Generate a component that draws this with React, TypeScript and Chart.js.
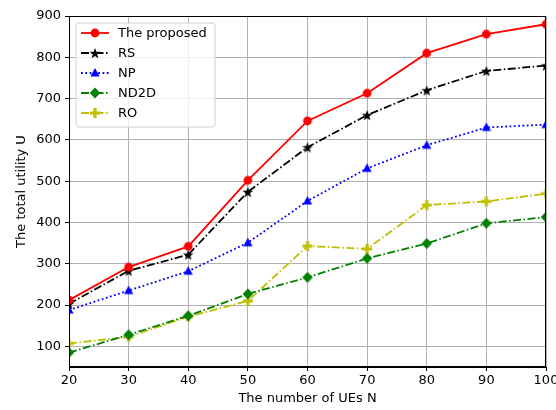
import React, { useEffect, useRef } from "react";
import { Chart, registerables } from "chart.js";

Chart.register(...registerables);

const xValues = [20, 30, 40, 50, 60, 70, 80, 90, 100];
const proposed = [212, 292, 342, 502, 646, 713, 810, 856, 880];
const rs = [203, 283, 322, 474, 582, 660, 720, 767, 780];
const np = [188, 235, 282, 351, 452, 531, 587, 630, 637];
const nd2d = [85, 128, 174, 227, 267, 313, 349, 398, 413];
const ro = [107, 123, 172, 210, 343, 336, 442, 451, 470];
const yTicks = [100, 200, 300, 400, 500, 600, 700, 800, 900];
const seriesNames = ["The proposed", "RS", "NP", "ND2D", "RO"];

const FONT = "'DejaVu Sans', sans-serif";

function makeMarker(kind: string, color: string): HTMLCanvasElement {
  const s = 14;
  const c = document.createElement("canvas");
  c.width = s;
  c.height = s;
  const ctx = c.getContext("2d")!;
  const m = s / 2;
  ctx.fillStyle = color;
  ctx.beginPath();
  if (kind === "circle") {
    ctx.arc(m, m, 4.4, 0, Math.PI * 2);
  } else if (kind === "star") {
    const ro = 5.6, ri = 2.3;
    for (let i = 0; i < 10; i++) {
      const r = i % 2 === 0 ? ro : ri;
      const a = -Math.PI / 2 + (i * Math.PI) / 5;
      const px = m + r * Math.cos(a), py = m + 0.6 + r * Math.sin(a);
      if (i === 0) ctx.moveTo(px, py); else ctx.lineTo(px, py);
    }
    ctx.closePath();
  } else if (kind === "triangle") {
    ctx.moveTo(m, m - 5);
    ctx.lineTo(m + 4.6, m + 3.6);
    ctx.lineTo(m - 4.6, m + 3.6);
    ctx.closePath();
  } else if (kind === "diamond") {
    ctx.moveTo(m, m - 5.6);
    ctx.lineTo(m + 5.2, m);
    ctx.lineTo(m, m + 5.6);
    ctx.lineTo(m - 5.2, m);
    ctx.closePath();
  } else if (kind === "plus") {
    const a = 5, t = 1.6;
    ctx.rect(m - a, m - t, 2 * a, 2 * t);
    ctx.rect(m - t, m - a, 2 * t, 2 * a);
  }
  ctx.fill();
  return c;
}

const borderPlugin = {
  id: "frameAndLegend",
  afterDraw(chart: any) {
    const { ctx, chartArea } = chart;
    const { left, top, right, bottom } = chartArea;
    ctx.save();
    ctx.strokeStyle = "#000";
    ctx.lineWidth = 1;
    ctx.strokeRect(left + 0.5, top + 0.5, right - left - 1, bottom - top - 1);

    // legend
    const bx = left + 7, by = top + 7, bw = 139, bh = 104;
    ctx.beginPath();
    const r = 3;
    ctx.moveTo(bx + r, by);
    ctx.lineTo(bx + bw - r, by);
    ctx.quadraticCurveTo(bx + bw, by, bx + bw, by + r);
    ctx.lineTo(bx + bw, by + bh - r);
    ctx.quadraticCurveTo(bx + bw, by + bh, bx + bw - r, by + bh);
    ctx.lineTo(bx + r, by + bh);
    ctx.quadraticCurveTo(bx, by + bh, bx, by + bh - r);
    ctx.lineTo(bx, by + r);
    ctx.quadraticCurveTo(bx, by, bx + r, by);
    ctx.closePath();
    ctx.fillStyle = "rgba(255,255,255,0.8)";
    ctx.fill();
    ctx.strokeStyle = "#d0d0d0";
    ctx.lineWidth = 1;
    ctx.stroke();

    chart.data.datasets.forEach((ds: any, i: number) => {
      const y = by + 10 + i * 20;
      ctx.save();
      ctx.strokeStyle = ds.borderColor;
      ctx.lineWidth = ds.borderWidth;
      ctx.setLineDash(ds.borderDash || []);
      ctx.beginPath();
      ctx.moveTo(bx + 5, y);
      ctx.lineTo(bx + 33, y);
      ctx.stroke();
      ctx.restore();
      const img = ds.pointStyle as HTMLCanvasElement;
      ctx.drawImage(img, bx + 19 - img.width / 2, y - img.height / 2);
      ctx.fillStyle = "#000";
      ctx.font = `13px ${FONT}`;
      ctx.textBaseline = "middle";
      ctx.textAlign = "left";
      ctx.fillText(ds.label, bx + 42, y + 1);
    });
    ctx.restore();
  },
};

export default function App() {
  const ref = useRef<HTMLCanvasElement>(null);
  useEffect(() => {
    document.body.style.margin = "0";
    const mk = (vals: number[]) => xValues.map((x, i) => ({ x, y: vals[i] }));
    const common = { borderWidth: 1.8, pointRadius: 5, pointHoverRadius: 5, clip: 0, fill: false, tension: 0 };
    const chart = new Chart(ref.current!, {
      type: "line",
      data: {
        datasets: [
          { ...common, label: seriesNames[0], data: mk(proposed), borderColor: "#ff0000", pointStyle: makeMarker("circle", "#ff0000") as any },
          { ...common, label: seriesNames[1], data: mk(rs), borderColor: "#000000", borderDash: [8, 2.5, 1.5, 2.5], pointStyle: makeMarker("star", "#000000") as any },
          { ...common, label: seriesNames[2], data: mk(np), borderColor: "#0000ff", borderDash: [1.8, 2.5], pointStyle: makeMarker("triangle", "#0000ff") as any },
          { ...common, label: seriesNames[3], data: mk(nd2d), borderColor: "#008000", borderDash: [8, 2.5, 1.5, 2.5], pointStyle: makeMarker("diamond", "#008000") as any },
          { ...common, label: seriesNames[4], data: mk(ro), borderColor: "#bfbf00", borderDash: [8, 2.5, 1.5, 2.5], pointStyle: makeMarker("plus", "#bfbf00") as any },
        ],
      },
      options: {
        responsive: false,
        animation: false,
        layout: { padding: { left: 0, top: 16, right: 10, bottom: 0 } },
        plugins: { legend: { display: false }, tooltip: { enabled: false } },
        scales: {
          x: {
            type: "linear",
            min: 20,
            max: 100,
            afterFit: (s: any) => { s.height = 43; s.paddingLeft = 0; s.paddingRight = 0; },
            afterBuildTicks: (s: any) => { s.ticks = xValues.map((v) => ({ value: v })); },
            ticks: { color: "#000", font: { family: FONT, size: 13 }, padding: 2, maxRotation: 0, autoSkip: false },
            grid: { color: "#b0b0b0", lineWidth: 1, tickColor: "#000", tickLength: 4 },
            border: { color: "#000", width: 1 },
            title: { display: true, text: "The number of UEs N", color: "#000", font: { family: FONT, size: 13 }, padding: { top: 0, bottom: 4 } },
          },
          y: {
            type: "linear",
            min: 50,
            max: 900,
            afterFit: (s: any) => { s.width = 69; s.paddingTop = 0; s.paddingBottom = 0; },
            afterBuildTicks: (s: any) => { s.ticks = yTicks.map((v) => ({ value: v })); },
            ticks: { color: "#000", font: { family: FONT, size: 13 }, padding: 4 },
            grid: { color: "#b0b0b0", lineWidth: 1, tickColor: "#000", tickLength: 4 },
            border: { color: "#000", width: 1 },
            title: { display: true, text: "The total utility U", color: "#000", font: { family: FONT, size: 13 }, padding: { top: 14, bottom: 0 } },
          },
        },
      },
      plugins: [borderPlugin],
    });
    return () => chart.destroy();
  }, []);
  return (
    <div style={{ position: "absolute", left: 0, top: 0, width: 556, height: 410, background: "#fff" }}>
      <canvas ref={ref} width={556} height={410} style={{ display: "block" }} />
    </div>
  );
}
